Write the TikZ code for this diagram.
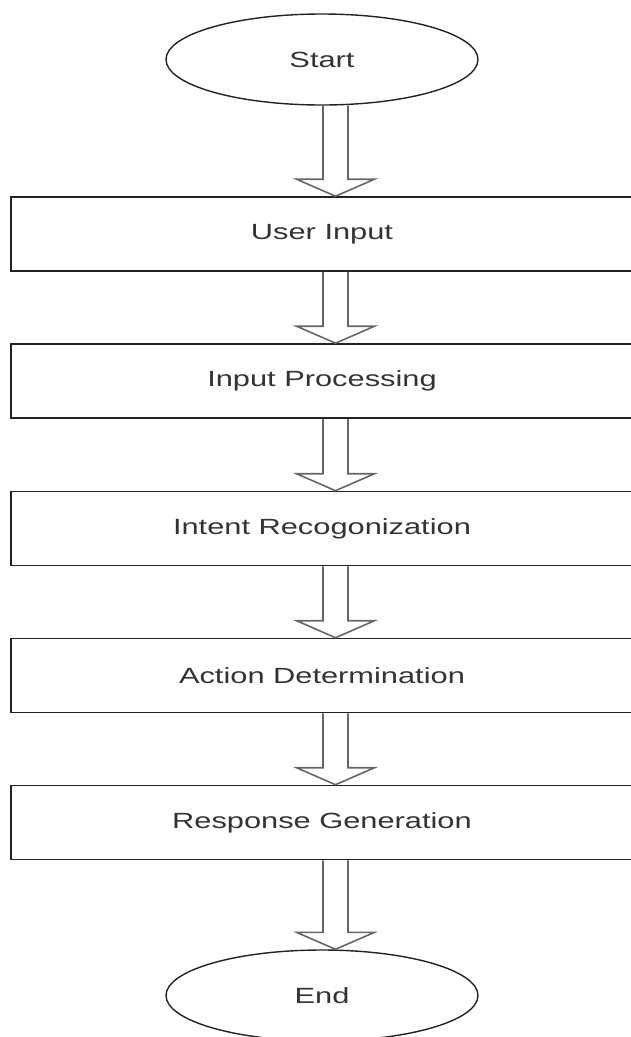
\documentclass[tikz,border=0pt]{standalone}
\usepackage{fontspec}
\setmainfont{Liberation Sans}[FakeStretch=1.4]
\usetikzlibrary{shapes.geometric,calc}
\definecolor{linedark}{HTML}{222222}
\definecolor{arrowgray}{HTML}{666666}
\definecolor{textgray}{HTML}{333333}
\tikzset{
  stepbox/.style={draw=linedark, line width=1.6pt, minimum width=622pt, minimum height=74pt, inner sep=0pt, text=textgray, font=\fontsize{22}{26}\selectfont},
  termnode/.style={ellipse, draw=linedark, line width=1.4pt, minimum width=312pt, minimum height=91pt, inner sep=0pt, text=textgray, font=\fontsize{22}{26}\selectfont},
  blockarrow/.style={draw=arrowgray, line width=1.6pt, line join=miter}
}
\newcommand\blockarr[2]{\draw[blockarrow] let \p1=(#1.south), \p2=(#2.north) in
  (\x1+1pt,\y1) -- (\x1+1pt,\y2+17pt) -- (\x1-25.5pt,\y2+17pt) -- (\x1+13.5pt,\y2)
  -- (\x1+52.5pt,\y2+17pt) -- (\x1+26pt,\y2+17pt) -- (\x1+26pt,\y1);}
\begin{document}
\begin{tikzpicture}[x=1pt,y=1pt]
\useasboundingbox (0,0) rectangle (631,-1037);
\node[termnode] (start) at (322,-59.5) {Start};
\node[stepbox] (s1) at (322,-234) {User Input};
\node[stepbox] (s2) at (322,-381) {Input Processing};
\node[stepbox] (s3) at (322,-528.5) {Intent Recogonization};
\node[stepbox] (s4) at (322,-675.5) {Action Determination};
\node[stepbox] (s5) at (322,-822.5) {Response Generation};
\node[termnode] (end) at (322,-995.5) {End};
\blockarr{start}{s1}
\blockarr{s1}{s2}
\blockarr{s2}{s3}
\blockarr{s3}{s4}
\blockarr{s4}{s5}
\blockarr{s5}{end}
\end{tikzpicture}
\end{document}
